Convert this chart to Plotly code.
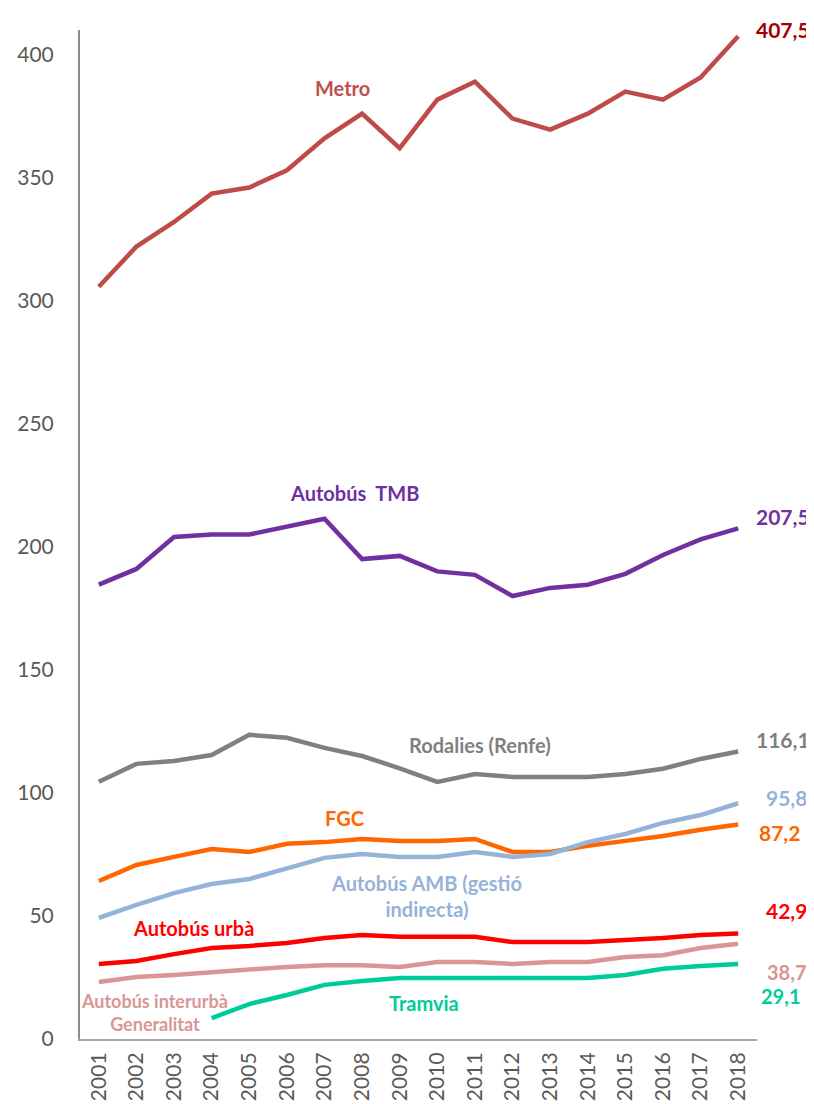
import plotly.graph_objects as go

years = [str(y) for y in range(2001, 2019)]

metro = [305.7, 322, 332, 343.5, 346, 353, 366, 376, 362, 381.7, 389, 374, 369.5, 376, 385, 381.7, 390.7, 407.5]
tmb = [184.6, 191, 204, 205, 205, 208, 211.4, 195, 196.3, 190, 188.6, 180, 183.3, 184.6, 189, 196.7, 203, 207.5]
rodalies = [104.5, 111.8, 113, 115.4, 123.6, 122.4, 118.3, 115, 110, 104.5, 107.7, 106.5, 106.5, 106.5, 107.7, 109.8, 113.8, 116.8]
fgc = [64.2, 70.7, 74, 77.2, 76, 79.3, 80, 81.3, 80.5, 80.5, 81.3, 76, 76, 78.5, 80.5, 82.5, 85, 87.2]
amb = [49.2, 54.5, 59.3, 63, 65, 69.5, 73.6, 75.2, 74, 74, 76, 74, 75.2, 80, 83.3, 87.8, 91, 95.8]
urba = [30.5, 31.7, 34.5, 37, 37.8, 39, 41, 42.3, 41.5, 41.5, 41.5, 39.4, 39.4, 39.4, 40.2, 41, 42.3, 42.9]
interurba = [23.2, 25.2, 26, 27.2, 28, 29.3, 30, 30, 29.3, 31.3, 31.3, 30.5, 31.3, 31.3, 33.3, 34, 37, 38.7]
tramvia = [None, None, None, 8.5, 14.2, 17.9, 22, 23.6, 24.8, 24.8, 24.8, 24.8, 24.8, 24.8, 26, 28.5, 29.7, 30.5]

end_labels = ["407,5", "207,5", "116,1", "95,8", "87,2", "42,9", "38,7", "29,1"]

series = [
    ("Metro", metro, "#BE4B48"),
    ("Autobús TMB", tmb, "#7030A0"),
    ("Rodalies (Renfe)", rodalies, "#808080"),
    ("FGC", fgc, "#FF6600"),
    ("Autobús AMB (gestió indirecta)", amb, "#95B3D7"),
    ("Autobús urbà", urba, "#FF0000"),
    ("Autobús interurbà Generalitat", interurba, "#D99694"),
    ("Tramvia", tramvia, "#00CC99"),
]

fig = go.Figure()
for name, vals, col in series:
    fig.add_trace(go.Scatter(x=years, y=vals, mode="lines", name=name,
                             line=dict(color=col, width=4.5), connectgaps=False))

OFF = 8  # default page body margin
W, H = 814 - OFF, 1104 - OFF
L, R, T, B = 80 - OFF, 57, 30 - OFF, 65
YMAX = 410
plot_w = W - L - R
plot_h = H - T - B

def px_x(px):
    return (px - OFF - L) / plot_w

def px_y(py):
    return (H - B - (py - OFF)) / plot_h

FONT = "Lato"
anns = [
    ("Metro", 342, 88, "#C0504D", 20),
    ("Autobús\u00a0\u00a0TMB", 354, 493, "#7030A0", 20),
    ("Rodalies (Renfe)", 480, 745, "#808080", 20),
    ("FGC", 344, 818, "#FF6600", 20),
    ("Autobús AMB (gestió<br>indirecta)", 426, 896, "#95B3D7", 20),
    ("Autobús urbà", 193, 928, "#FF0000", 20),
    ("Autobús interurbà<br>Generalitat", 154, 1012, "#D99694", 18),
    ("Tramvia", 424, 1003, "#00CC99", 20),
    (end_labels[0], 783, 29, "#A50000", 21),
    (end_labels[1], 783, 516, "#7030A0", 21),
    (end_labels[2], 783, 739, "#808080", 21),
    (end_labels[3], 786, 797, "#95B3D7", 21),
    (end_labels[4], 779, 833, "#FF6600", 21),
    (end_labels[5], 786, 910, "#FF0000", 21),
    (end_labels[6], 786, 972, "#D99694", 20),
    (end_labels[7], 780, 996, "#00CC99", 20),
]
for text, x, y, col, sz in anns:
    fig.add_annotation(x=px_x(x), y=px_y(y), xref="paper", yref="paper", text="<b>" + text + "</b>",
                       showarrow=False, font=dict(family=FONT, size=sz, color=col),
                       xanchor="center", yanchor="middle", align="center", borderpad=0)

fig.update_layout(
    width=W, height=H,
    margin=dict(l=L, r=R, t=T, b=B, autoexpand=False),
    paper_bgcolor="white", plot_bgcolor="white",
    showlegend=False,
    font=dict(family=FONT, color="#595959"),
)
fig.update_xaxes(type="category", range=[-0.5, 17.5], showline=True, linecolor="#A6A6A6", linewidth=2,
                 showgrid=False, ticks="", tickangle=-90, tickfont=dict(size=21, color="#595959"),
                 zeroline=False, automargin=False, ticklabelstandoff=3)
fig.update_yaxes(range=[0, YMAX], showline=True, linecolor="#8C8C8C", linewidth=2, showgrid=False,
                 tickvals=[0, 50, 100, 150, 200, 250, 300, 350, 400], ticks="", ticklen=0,
                 tickfont=dict(size=21, color="#595959"), zeroline=False, automargin=False,
                 ticklabelstandoff=20)

fig.write_html("out.html")
